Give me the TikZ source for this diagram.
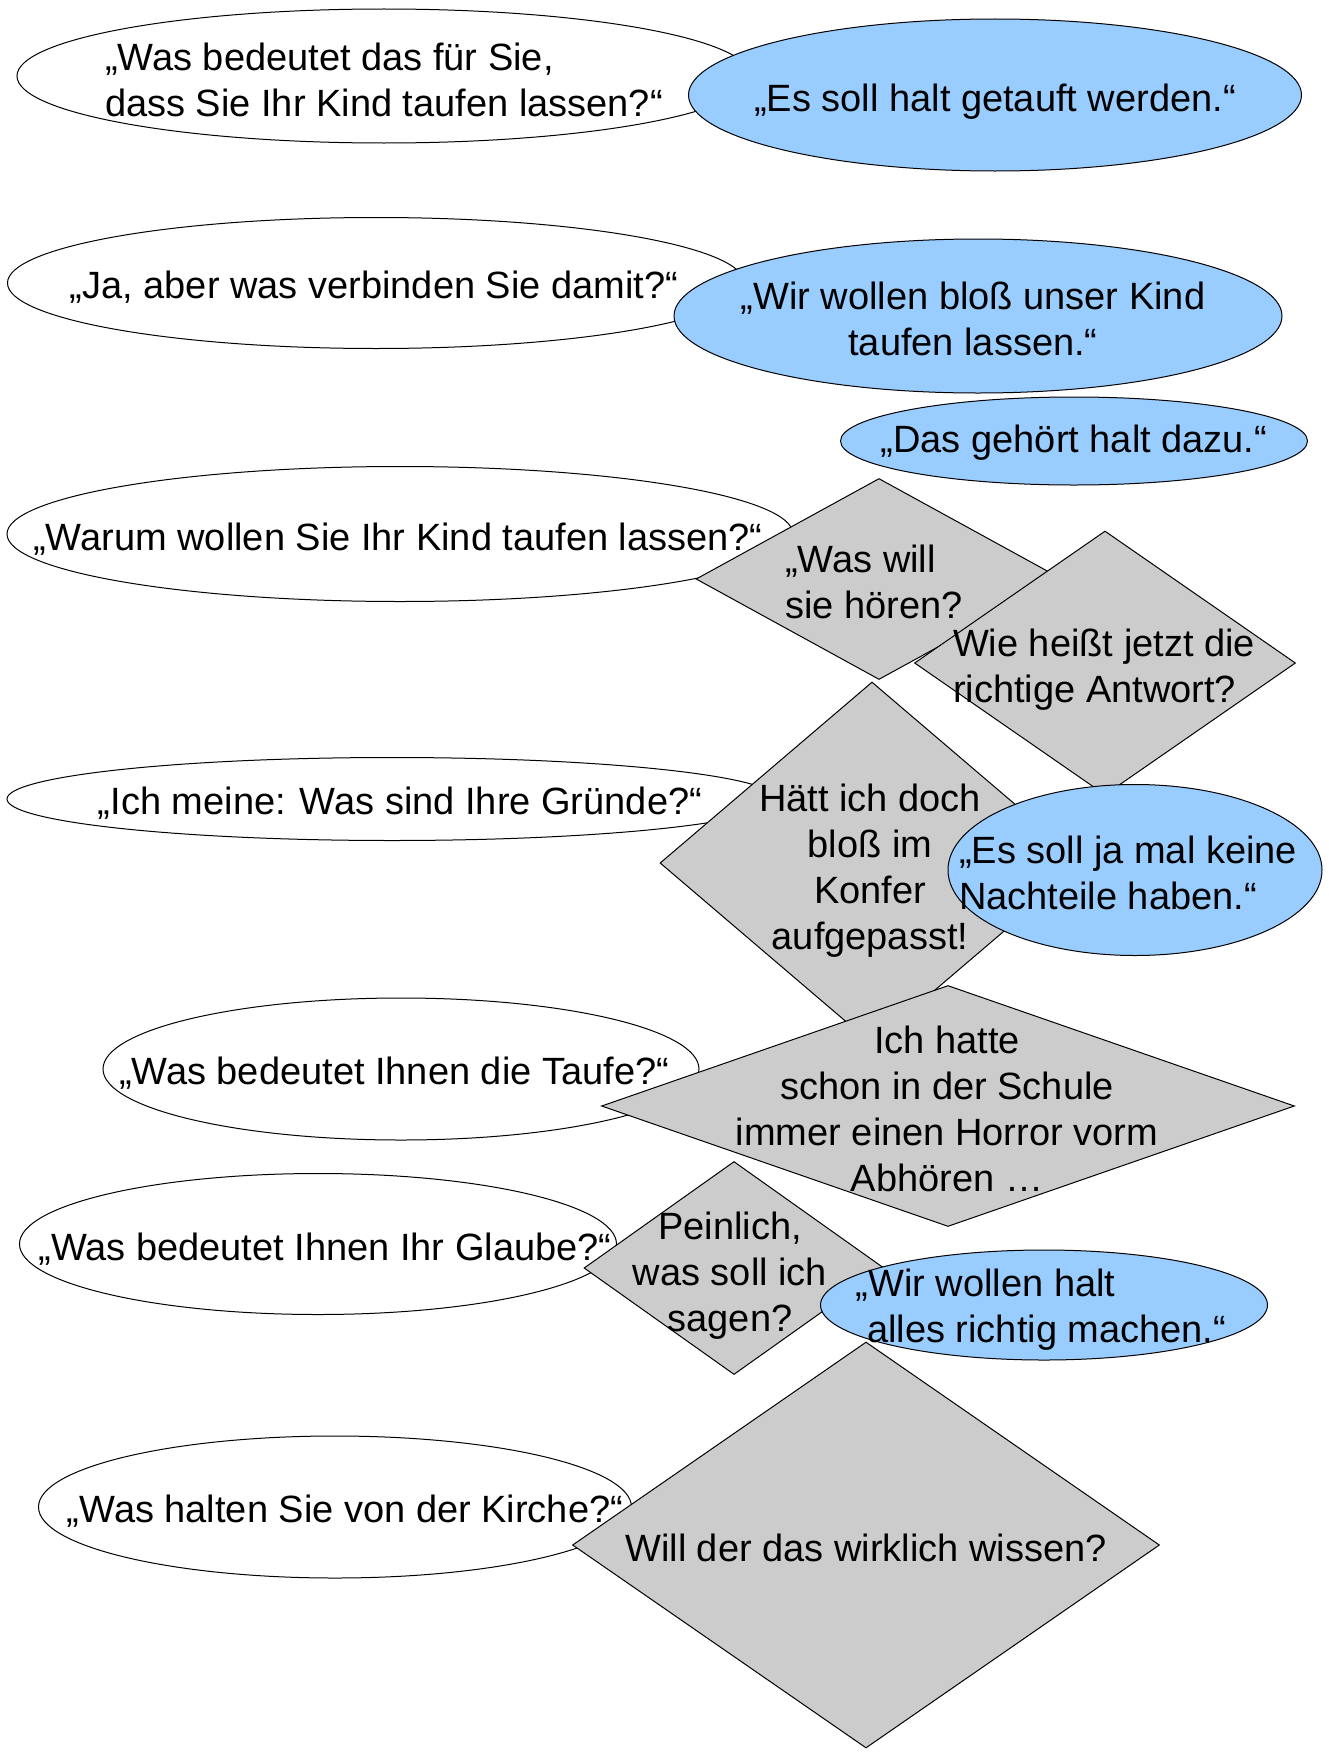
\documentclass[tikz,border=0pt]{standalone}
\usepackage{fontspec}
\setmainfont{Liberation Sans}
\usetikzlibrary{shapes.geometric}
\definecolor{antwortblau}{HTML}{99CCFF}
\definecolor{grau}{HTML}{CCCCCC}

\begin{document}
\begin{tikzpicture}[x=1pt,y=-1pt,
        every node/.style={inner sep=0pt, font=\fontsize{38}{46}\selectfont},
        frage/.style={ellipse, draw, fill=white, line width=1pt},
        antwort/.style={ellipse, draw, fill=antwortblau, line width=1pt},
        gedanke/.style={diamond, draw, fill=grau, line width=1pt},
        txt/.style={align=center}]
        \useasboundingbox (0,0) rectangle (1329,1753);
        % Fragen und Antworten oben
        \node[frage, minimum width=734, minimum height=134] (q1) at (384,76) {};
        \node[txt, align=left] (q1t) at (384,80) {„Was bedeutet das für Sie,\\dass Sie Ihr Kind taufen lassen?“};
        \node[antwort, minimum width=613, minimum height=152] (a1) at (995,95) {};
        \node[txt] (a1t) at (995,102) {„Es soll halt getauft werden.“};
        \node[frage, minimum width=737, minimum height=131] (q2) at (376,283) {};
        \node[txt] (q2t) at (374,287) {„Ja, aber was verbinden Sie damit?“};
        \node[antwort, minimum width=608, minimum height=154] (a2) at (978,316) {};
        \node[txt] (a2t) at (973,319) {„Wir wollen bloß unser Kind\\taufen lassen.“};
        \node[antwort, minimum width=467, minimum height=88] (a3) at (1074,441) {};
        \node[txt] (a3t) at (1074,443) {„Das gehört halt dazu.“};
        % Mitte
        \node[frage, minimum width=786, minimum height=135] (q3) at (400,534) {};
        \node[txt] (q3t) at (398,539) {„Warum wollen Sie Ihr Kind taufen lassen?“};
        \node[gedanke, minimum width=366, minimum height=201] (d1) at (879,579) {};
        \node[txt, align=left] (d1t) at (874,582) {„Was will\\sie hören?};
        \node[gedanke, minimum width=381, minimum height=264] (d2) at (1105,663) {};
        \node[txt, align=left] (d2t) at (1104,670) {Wie heißt jetzt die\\richtige Antwort?};
        \node[frage, minimum width=770, minimum height=83] (q4) at (392,799) {};
        \node[txt] (q4t) at (400,803) {„Ich meine: Was sind Ihre Gründe?“};
        \node[gedanke, minimum width=424, minimum height=362] (d3) at (872,863) {};
        \node[txt] (d3t) at (870,871) {Hätt ich doch\\bloß im\\Konfer\\aufgepasst!};
        \node[antwort, minimum width=374, minimum height=171] (a4) at (1135,870) {};
        \node[txt, align=left] (a4t) at (1128,873) {„Es soll ja mal keine\\Nachteile haben.“};
        % unten
        \node[frage, minimum width=596, minimum height=142] (q5) at (401,1069) {};
        \node[txt] (q5t) at (394,1073) {„Was bedeutet Ihnen die Taufe?“};
        \node[gedanke, minimum width=693, minimum height=241] (d4) at (948,1106) {};
        \node[txt] (d4t) at (947,1109) {Ich hatte\\schon in der Schule\\immer einen Horror vorm\\Abhören …};
        \node[frage, minimum width=597, minimum height=141] (q6) at (318,1244) {};
        \node[txt] (q6t) at (325,1249) {„Was bedeutet Ihnen Ihr Glaube?“};
        \node[gedanke, minimum width=300, minimum height=213] (d5) at (734,1268) {};
        \node[txt] (d5t) at (730,1276) {Peinlich,\\was soll ich\\sagen?};
        \node[frage, minimum width=593, minimum height=142] (q7) at (335,1507) {};
        \node[txt] (q7t) at (345,1511) {„Was halten Sie von der Kirche?“};
        \node[gedanke, minimum width=587, minimum height=406] (d6) at (866,1545) {};
        \node[txt] (d6t) at (866,1548) {Will der das wirklich wissen?};
        \node[antwort, minimum width=447, minimum height=110] (a5) at (1044,1305) {};
        \node[txt, align=left] (a5t) at (1041,1310) {„Wir wollen halt\\\hspace*{0.3em}alles richtig machen.“};
\end{tikzpicture}
\end{document}
